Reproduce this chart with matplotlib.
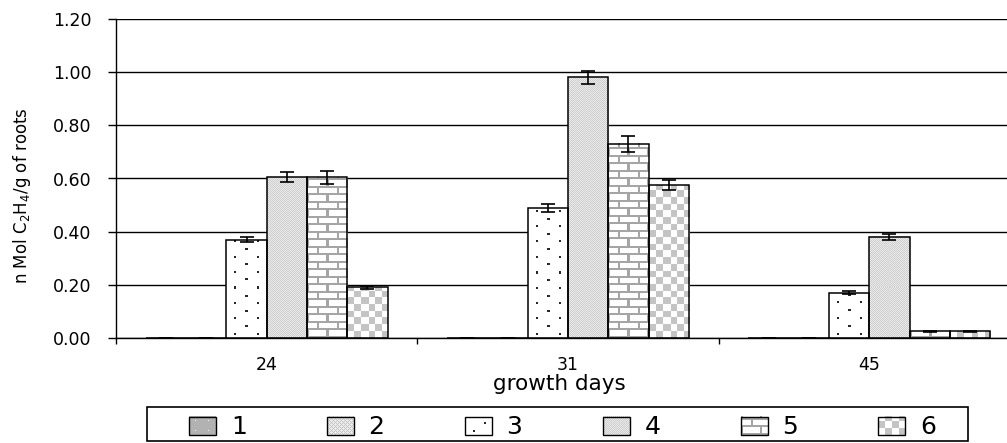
import numpy as np
import matplotlib
matplotlib.use("Agg")
import matplotlib.pyplot as plt
from matplotlib.patches import Rectangle, Patch
from matplotlib.legend_handler import HandlerBase
from matplotlib.image import BboxImage
from matplotlib.transforms import Bbox, TransformedBbox

# ---------------- data ----------------
days = ["24", "31", "45"]
series_names = ["1", "2", "3", "4", "5", "6"]
s1 = [0.0, 0.0, 0.0]
s2 = [0.0, 0.0, 0.0]
s3 = [0.37, 0.49, 0.17]
s4 = [0.605, 0.98, 0.38]
s5 = [0.605, 0.73, 0.025]
s6 = [0.19, 0.575, 0.025]
e1 = [0.0, 0.0, 0.0]
e2 = [0.0, 0.0, 0.0]
e3 = [0.010, 0.015, 0.006]
e4 = [0.018, 0.025, 0.010]
e5 = [0.025, 0.030, 0.003]
e6 = [0.005, 0.018, 0.003]
yticks = [0.0, 0.2, 0.4, 0.6, 0.8, 1.0, 1.2]
ylabel = "n Mol C$_2$H$_4$/g of roots"
xlabel = "growth days"

values = [s1, s2, s3, s4, s5, s6]
errors = [e1, e2, e3, e4, e5, e6]

plt.rcParams["font.family"] = ["DejaVu Sans"]


# ---------------- pixel patterns ----------------
def _base(h, w, col=(255, 255, 255)):
    arr = np.empty((h, w, 3), np.uint8)
    arr[:] = col
    Y, X = np.indices((h, w))
    return arr, Y, X


def pat_solid(h, w):
    arr, Y, X = _base(h, w, (178, 178, 178))
    m = ((Y % 10) == 4) & ((X % 13) == 6)
    arr[m] = (245, 245, 245)
    return arr


def pat_cross(h, w):
    arr, Y, X = _base(h, w, (236, 236, 236))
    m = (((X + Y) % 4) == 0) | (((X - Y) % 4) == 0)
    arr[m] = (195, 195, 195)
    return arr


def pat_dots(h, w):
    arr, Y, X = _base(h, w)
    m = ((((Y - 3) % 15.2) < 2) & (((X - 8) % 22) < 2)) | \
        ((((Y - 10.6) % 15.2) < 2) & (((X - 19) % 22) < 2))
    arr[m] = (40, 40, 40)
    return arr


def pat_fine(h, w):
    arr, Y, X = _base(h, w, (234, 234, 234))
    m = ((X + Y) % 2) == 0
    arr[m] = (206, 206, 206)
    return arr


def pat_brick(h, w):
    arr, Y, X = _base(h, w)
    rowh = 7.5
    row = np.floor(Y / rowh)
    mortar = (Y % rowh) < 1.8
    off = np.where(row % 2 == 0, 0.0, 9.5)
    joint = ((X + off) % 19) < 2
    arr[mortar | joint] = (165, 165, 165)
    return arr


def pat_checker(h, w):
    arr, Y, X = _base(h, w)
    c = 6.7
    m = ((np.floor(X / c) + np.floor(Y / c)) % 2) == 1
    arr[m] = (196, 196, 196)
    return arr


patterns = [pat_solid, pat_cross, pat_dots, pat_fine, pat_brick, pat_checker]

# ---------------- figure ----------------
W, H = 1007, 443
fig = plt.figure(figsize=(W / 100, H / 100), dpi=100)
ax = fig.add_axes([116 / W, 105 / H, 904 / W, 319 / H])
ax.set_xlim(-0.5, 2.5)
ax.set_ylim(0, 1.2)

x = np.arange(len(days))
nser = len(values)
bw = 0.1338

bars_all = []
for i, (vals, errs) in enumerate(zip(values, errors)):
    pos = x + (i - (nser - 1) / 2) * bw
    bars = ax.bar(pos, vals, width=bw, facecolor="none", edgecolor="black",
                  linewidth=1.1, zorder=3)
    bars_all.append(bars)
    ax.errorbar(pos, vals, yerr=errs, fmt="none", ecolor="black",
                elinewidth=1.2, capsize=5, capthick=1.2, zorder=5)

# fill bars with pixel patterns
for i, bars in enumerate(bars_all):
    for b in bars:
        x0, y0 = b.get_x(), b.get_y()
        w, h = b.get_width(), b.get_height()
        if h <= 0:
            continue
        (px0, py0), (px1, py1) = ax.transData.transform([[x0, y0], [x0 + w, y0 + h]])
        pw = max(1, int(round(px1 - px0)))
        ph = max(1, int(round(py1 - py0)))
        arr = patterns[i](ph, pw)
        ax.imshow(arr, extent=[x0, x0 + w, y0, y0 + h], origin="lower",
                  interpolation="nearest", aspect="auto", zorder=2.5)

ax.set_xlim(-0.5, 2.5)
ax.set_ylim(0, 1.2)

# axes styling
for side in ["top", "right"]:
    ax.spines[side].set_visible(False)
ax.spines["left"].set_linewidth(1.0)
ax.spines["bottom"].set_linewidth(1.0)
ax.spines["left"].set_zorder(4)
ax.spines["bottom"].set_zorder(4)

ax.set_yticks(yticks)
ax.set_yticklabels([f"{v:.2f}" for v in yticks])
ax.yaxis.grid(True, color="black", linewidth=1.0, zorder=0.5)
ax.set_axisbelow(True)
ax.tick_params(axis="y", direction="out", length=6, width=1.0, pad=11.5,
               labelsize=12.5)

ax.set_xticks(x)
ax.set_xticklabels(days)
ax.set_xticks([-0.5, 0.5, 1.5, 2.5], minor=True)
ax.tick_params(axis="x", which="major", length=0, pad=13, labelsize=12.5)
ax.tick_params(axis="x", which="minor", direction="out", length=4.3, width=1.0)

ax.set_ylabel(ylabel, fontsize=12)
ax.yaxis.label.set_va("center")
ax.yaxis.set_label_coords((22 - 116) / 904, (338 - 196) / 319)

ax.set_xlabel(xlabel, fontsize=15.5)
ax.xaxis.label.set_va("top")
ax.xaxis.set_label_coords(0.49, (338 - 374) / 319)


# ---------------- legend ----------------
class PatternHandler(HandlerBase):
    def __init__(self, gen):
        super().__init__()
        self.gen = gen

    def create_artists(self, legend, orig_handle, xdescent, ydescent,
                       width, height, fontsize, trans):
        x0, y0 = -xdescent, -ydescent
        bb = TransformedBbox(Bbox.from_bounds(x0, y0, width, height), trans)
        img = BboxImage(bb, interpolation="nearest", origin="lower")
        img.set_data(self.gen(19, 27))
        rect = Rectangle((x0, y0), width, height, facecolor="none",
                         edgecolor="black", linewidth=1.0, transform=trans)
        return [img, rect]


handles = [Patch(label=n) for n in series_names]
hmap = {hd: PatternHandler(patterns[i]) for i, hd in enumerate(handles)}
leg = fig.legend(handles=handles, labels=series_names, handler_map=hmap,
                 loc="center", bbox_to_anchor=(562.5 / W, 1 - 427.5 / H),
                 bbox_transform=fig.transFigure, ncol=6, frameon=False,
                 fontsize=18, handlelength=1.08, handleheight=0.76,
                 handletextpad=0.6, columnspacing=3.2, borderpad=0.0,
                 borderaxespad=0.0)

frame = Rectangle((147 / W, 1 - 441 / H), (968 - 147) / W, 34 / H,
                  transform=fig.transFigure, fill=False, edgecolor="black",
                  linewidth=1.2)
fig.add_artist(frame)

fig.savefig("out.png", dpi=100)
